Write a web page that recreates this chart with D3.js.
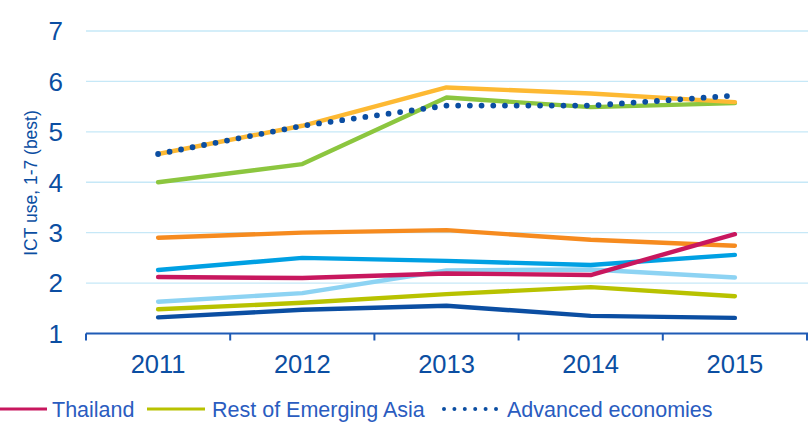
<!DOCTYPE html>
<html>
<head>
<meta charset="utf-8">
<script src="https://cdn.jsdelivr.net/npm/d3@7"></script>
<style>
  body { margin: 0; background: #fff; }
  svg { display: block; font-family: Arial, "Liberation Sans", sans-serif; }
</style>
</head>
<body>
<svg id="chart"></svg>
<script>
const size = {w: 808, h: 422};
const svg = d3.select('svg#chart')
    .attr('width', size.w)
    .attr('height', size.h);

//DATA
const years = ['2011', '2012', '2013', '2014', '2015'];
const yTicks = [1, 2, 3, 4, 5, 6, 7];

const navyLine      = [1.32, 1.47, 1.55, 1.35, 1.31];
const restAsia      = [1.48, 1.61, 1.78, 1.92, 1.74];
const lightBlueLine = [1.63, 1.80, 2.25, 2.27, 2.11];
const blueLine      = [2.26, 2.50, 2.44, 2.36, 2.56];
const orangeLine    = [2.90, 3.00, 3.05, 2.86, 2.74];
const greenLine     = [4.00, 4.36, 5.68, 5.49, 5.57];
const yellowLine    = [4.56, 5.12, 5.88, 5.76, 5.59];
const thailand      = [2.12, 2.10, 2.19, 2.16, 2.97];
const advanced      = [4.56, 5.12, 5.52, 5.52, 5.72];

const series = [
    {name: 'Series navy', values: navyLine, color: '#0b4ea2'},
    {name: 'Rest of Emerging Asia', values: restAsia, color: '#b8c200'},
    {name: 'Series light blue', values: lightBlueLine, color: '#8dd3f3'},
    {name: 'Series blue', values: blueLine, color: '#00a0e3'},
    {name: 'Series orange', values: orangeLine, color: '#f68b1f'},
    {name: 'Series green', values: greenLine, color: '#8cc63f'},
    {name: 'Series yellow', values: yellowLine, color: '#fdb933'},
    {name: 'Thailand', values: thailand, color: '#c8175e'},
    {name: 'Advanced economies', values: advanced, color: '#0b4ea2', dotted: true}
];

const legendItems = ['Thailand', 'Rest of Emerging Asia', 'Advanced economies'];

//SCALES
const x = d3.scalePoint()
    .domain(years)
    .range([86, 807])
    .padding(0.5);
const y = d3.scaleLinear()
    .domain([1, 7])
    .range([333.5, 31]);

const axisBlue = '#0b4ea2';

//GRIDLINES
svg.append('g')
    .selectAll('line')
    .data(yTicks.filter(d => d > 1))
    .join('line')
    .attr('x1', 86)
    .attr('x2', size.w)
    .attr('y1', d => y(d))
    .attr('y2', d => y(d))
    .attr('stroke', '#c6e8f7')
    .attr('stroke-width', 1.3);

//Y TICK LABELS
svg.append('g')
    .selectAll('text')
    .data(yTicks)
    .join('text')
    .attr('x', 63)
    .attr('y', d => y(d))
    .attr('dy', '0.36em')
    .attr('text-anchor', 'end')
    .attr('fill', axisBlue)
    .style('font-size', '26px')
    .text(d => d);

//Y AXIS TITLE
svg.append('text')
    .attr('transform', `translate(37, ${183}) rotate(-90)`)
    .attr('text-anchor', 'middle')
    .attr('fill', axisBlue)
    .style('font-size', '17.5px')
    .text('ICT use, 1-7 (best)');

//X AXIS
const step = x.step();
const tickPos = years.map(d => x(d) - step / 2).concat([x(years[years.length - 1]) + step / 2]);
const xAxisG = svg.append('g');
xAxisG.append('line')
    .attr('x1', 86)
    .attr('x2', size.w)
    .attr('y1', y(1))
    .attr('y2', y(1))
    .attr('stroke', '#1f5bb5')
    .attr('stroke-width', 2);
xAxisG.selectAll('line.tick')
    .data(tickPos)
    .join('line')
    .classed('tick', true)
    .attr('x1', d => d)
    .attr('x2', d => d)
    .attr('y1', y(1))
    .attr('y2', y(1) + 7)
    .attr('stroke', '#1f5bb5')
    .attr('stroke-width', 2);
xAxisG.selectAll('text')
    .data(years)
    .join('text')
    .attr('x', d => x(d))
    .attr('y', 373)
    .attr('text-anchor', 'middle')
    .attr('fill', axisBlue)
    .style('font-size', '25.5px')
    .text(d => d);

//LINES
const line = d3.line()
    .x((d, i) => x(years[i]))
    .y(d => y(d));

svg.append('g')
    .selectAll('path')
    .data(series)
    .join('path')
    .attr('d', d => line(d.values))
    .attr('fill', 'none')
    .attr('stroke', d => d.color)
    .attr('stroke-width', d => d.dotted ? 5.8 : 4.4)
    .attr('stroke-linecap', 'round')
    .attr('stroke-linejoin', 'round')
    .attr('stroke-dasharray', d => d.dotted ? '0, 11.7' : null);

//LEGEND
const legendPos = [
    {sx: 0, ex: 47, tx: 52},
    {sx: 147, ex: 205, tx: 212},
    {sx: 444, ex: 496, tx: 507}
];
const legend = svg.append('g')
    .selectAll('g')
    .data(legendItems)
    .join('g');
legend.append('line')
    .attr('x1', (d, i) => legendPos[i].sx)
    .attr('x2', (d, i) => legendPos[i].ex)
    .attr('y1', 409)
    .attr('y2', 409)
    .attr('stroke', d => series.find(s => s.name === d).color)
    .attr('stroke-width', d => series.find(s => s.name === d).dotted ? 4 : 3)
    .attr('stroke-linecap', d => series.find(s => s.name === d).dotted ? 'round' : 'butt')
    .attr('stroke-dasharray', d => series.find(s => s.name === d).dotted ? '0, 10.4' : null);
legend.append('text')
    .attr('x', (d, i) => legendPos[i].tx)
    .attr('y', 409)
    .attr('dy', '0.36em')
    .attr('fill', '#2a5cc0')
    .style('font-size', '21.5px')
    .text(d => d);
</script>
</body>
</html>
